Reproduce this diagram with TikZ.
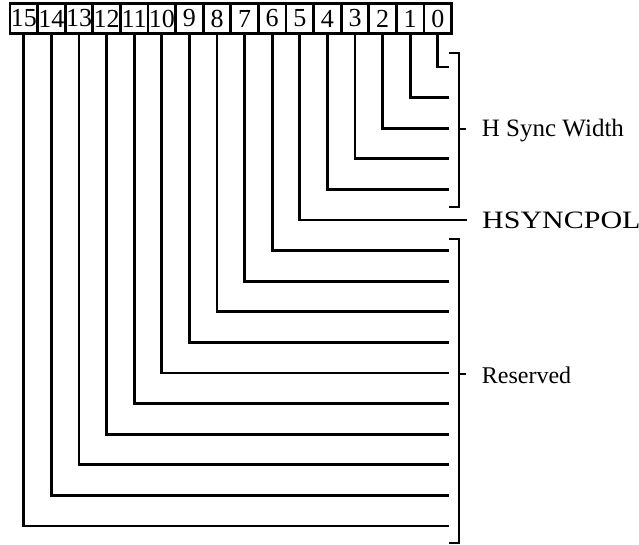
\documentclass[tikz,border=0pt]{standalone}
\usepackage{fontspec}
\setmainfont{Liberation Serif}
\begin{document}
\begin{tikzpicture}[x=1pt,y=-1pt,line width=2.8pt,
  bitbox/.style={draw,minimum width=27.6pt,minimum height=30pt,inner sep=0pt,font=\fontsize{26}{26}\selectfont},
  lbl/.style={anchor=base west,inner sep=0pt,font=\fontsize{24}{28}\selectfont},
  wire/.style={line cap=butt},
  brk/.style={line width=2.6pt}]
\useasboundingbox (0,0) rectangle (639,545);
\foreach \i in {0,...,15} {
  \node[bitbox] (b\i) at ({23.8+27.6*(15-\i)},18.5) {\i};
}
\foreach \i in {0,1,2,3,4,6,7,8,9,10,11,12,13,14,15} {
  \coordinate (e\i) at (449,{67+30.6*\i});
}
\coordinate (e5) at (467,220);
\foreach \i in {0,...,15} {
  \draw[wire] (b\i.south) |- (e\i);
}
% bracket for H Sync Width
\coordinate (ha) at (449,53);
\coordinate (hb) at (459,53);
\coordinate (hc) at (459,207);
\coordinate (hd) at (449,207);
\coordinate (hm) at (459,129);
\coordinate (ht) at (466,129);
\draw[brk] (ha) -- (hb) -- (hc) -- (hd);
\draw[brk] (hm) -- (ht);
% bracket for Reserved
\coordinate (ra) at (449,239);
\coordinate (rb) at (459,239);
\coordinate (rc) at (459,543);
\coordinate (rd) at (449,543);
\coordinate (rm) at (459,374);
\coordinate (rt) at (466,374);
\draw[brk] (ra) -- (rb) -- (rc) -- (rd);
\draw[brk] (rm) -- (rt);
\node[lbl,font=\fontsize{25}{28}\selectfont] (hsw) at (480.5,137) {H Sync Width};
\node[lbl,font=\fontsize{25}{28}\selectfont,xscale=1.2] (hsp) at (480.5,228.5) {HSYNCPOL};
\node[lbl] (res) at (480.5,383) {Reserved};
\end{tikzpicture}
\end{document}
